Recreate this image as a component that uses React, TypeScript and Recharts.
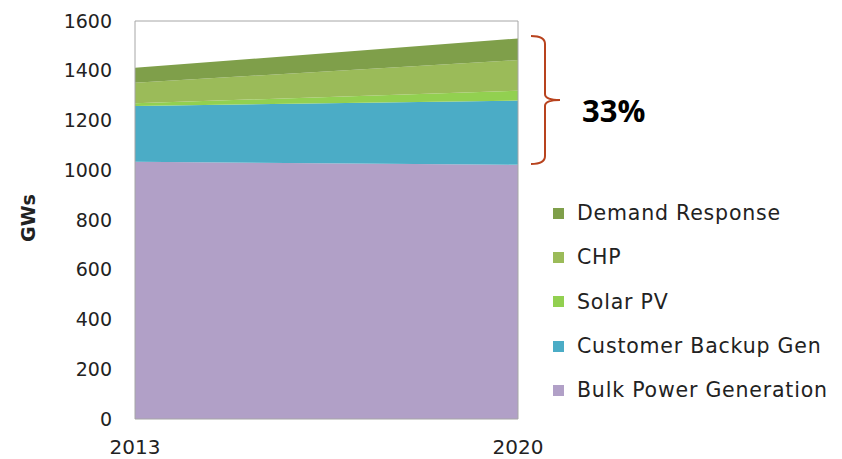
import { Area, AreaChart, Legend, ReferenceArea, XAxis, YAxis } from 'recharts'

const YEARS = ['2013', '2020']
const BULK = [1034, 1022]
const BACKUP = [224, 258]
const SOLAR = [11, 40]
const CHP = [83, 123]
const DEMAND = [60, 87]
const Y_TICKS = [0, 200, 400, 600, 800, 1000, 1200, 1400, 1600]

const SERIES = [
  { key: 'bulk', label: 'Bulk Power Generation', color: '#b1a0c7', values: BULK },
  { key: 'backup', label: 'Customer Backup Gen', color: '#4bacc6', values: BACKUP },
  { key: 'solar', label: 'Solar PV', color: '#92d050', values: SOLAR },
  { key: 'chp', label: 'CHP', color: '#9bbb59', values: CHP },
  { key: 'demand', label: 'Demand Response', color: '#7f9f4a', values: DEMAND },
]

const data = YEARS.map((year, i) => {
  const row: Record<string, string | number> = { year }
  SERIES.forEach((s) => (row[s.key] = s.values[i]))
  return row
})

const FONT = '"DejaVu Sans", sans-serif'

function LegendBox() {
  return (
    <ul style={{ position: 'absolute', left: 553, top: 191, margin: 0, padding: 0, listStyle: 'none' }}>
      {[...SERIES].reverse().map((s) => (
        <li
          key={s.key}
          style={{
            display: 'flex',
            alignItems: 'center',
            height: 44.3,
            fontFamily: FONT,
            fontSize: 20.5,
            letterSpacing: 0.8,
            color: '#222',
            whiteSpace: 'nowrap',
          }}
        >
          <span style={{ display: 'inline-block', width: 11, height: 11, background: s.color, marginRight: 13 }} />
          {s.label}
        </li>
      ))}
    </ul>
  )
}

export default function App() {
  return (
    <div style={{ position: 'absolute', left: 0, top: 0, width: 842, height: 459, background: '#fff' }}>
      <AreaChart width={842} height={459} data={data} margin={{ top: 21, right: 324, bottom: 0, left: 0 }}>
        <XAxis
          dataKey="year"
          axisLine={false}
          tickLine={false}
          height={40}
          tickMargin={15}
          tick={{ fill: '#222', fontSize: 20, fontFamily: FONT }}
        />
        <YAxis
          width={135}
          domain={[0, 1600]}
          ticks={Y_TICKS}
          axisLine={false}
          tickLine={false}
          tickMargin={17}
          tick={{ fill: '#222', fontSize: 19, fontFamily: FONT }}
        />
        {SERIES.map((s) => (
          <Area
            key={s.key}
            dataKey={s.key}
            name={s.label}
            stackId="1"
            type="linear"
            fill={s.color}
            fillOpacity={1}
            stroke="none"
            isAnimationActive={false}
          />
        ))}
        <ReferenceArea x1="2013" x2="2020" y1={0} y2={1600} fill="none" stroke="#a6a6a6" strokeWidth={1} />
        <Legend content={() => null} />
      </AreaChart>
      <LegendBox />
      <div
        style={{
          position: 'absolute',
          left: 28,
          top: 218,
          transform: 'translate(-50%, -50%) rotate(-90deg)',
          fontFamily: FONT,
          fontWeight: 700,
          fontSize: 19,
          color: '#222',
          whiteSpace: 'nowrap',
        }}
      >
        GWs
      </div>
      <svg width={842} height={459} style={{ position: 'absolute', left: 0, top: 0, pointerEvents: 'none' }}>
        <path
          d="M531,36 Q545,36 545,44 L545,94 Q545,100 560,100 Q545,100 545,106 L545,156 Q545,164 531,164"
          fill="none"
          stroke="#b8431e"
          strokeWidth={2}
        />
        <text x={582} y={122} fontFamily='"Open Sans", sans-serif' fontWeight={700} fontSize={31} fill="#000">
          33%
        </text>
      </svg>
    </div>
  )
}
